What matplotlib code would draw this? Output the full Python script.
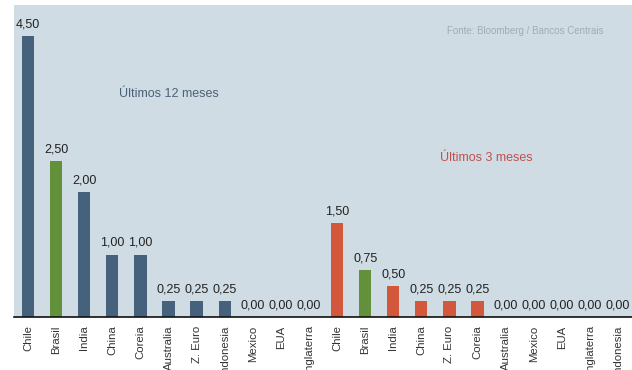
import matplotlib
matplotlib.use("Agg")
import matplotlib.pyplot as plt
from matplotlib import font_manager

names = {f.name for f in font_manager.fontManager.ttflist}
FONT = ['Liberation Sans Narrow'] if 'Liberation Sans Narrow' in names else ['Liberation Sans']
plt.rcParams['font.family'] = FONT + ['DejaVu Sans']

cats_12m = ["Chile", "Brasil", "India", "China", "Coreia", "Australia", "Z. Euro",
            "Indonesia", "Mexico", "EUA", "Inglaterra"]
vals_12m = [4.50, 2.50, 2.00, 1.00, 1.00, 0.25, 0.25, 0.25, 0.00, 0.00, 0.00]
cats_3m = ["Chile", "Brasil", "India", "China", "Z. Euro", "Coreia", "Australia",
           "Mexico", "EUA", "Inglaterra", "Indonesia"]
vals_3m = [1.50, 0.75, 0.50, 0.25, 0.25, 0.25, 0.00, 0.00, 0.00, 0.00, 0.00]

BLUE = "#46617b"
GREEN = "#62903b"
RED = "#d3573b"
BG = "#d0dce4"

fig = plt.figure(figsize=(6.32, 3.70), dpi=100)
ax = fig.add_axes([14/632, 1 - 317/370, 618/632, 312/370])
ax.set_facecolor(BG)

labels = cats_12m + cats_3m
values = vals_12m + vals_3m
colors = [GREEN if c == "Brasil" else BLUE for c in cats_12m] + \
         [GREEN if c == "Brasil" else RED for c in cats_3m]
x = list(range(len(labels)))
ax.bar(x, values, width=0.44, color=colors, zorder=2)
for xi, v in zip(x, values):
    ax.text(xi, v + 0.09, f"{v:.2f}".replace(".", ","), ha="center", va="bottom",
            fontsize=9, color="#222222")

ax.set_xlim(-0.5, len(labels) - 0.5)
ax.set_ylim(0, 5.0)
ax.set_xticks(x)
ax.set_xticklabels(labels, rotation=90, fontsize=8.2, color="#333333")
ax.tick_params(axis="x", length=0, pad=6)
ax.set_yticks([])
for s in ["left", "right", "top"]:
    ax.spines[s].set_visible(False)
ax.spines["bottom"].set_color("#111111")
ax.spines["bottom"].set_linewidth(1.2)

ax.text(5.0, 3.58, "Últimos 12 meses", ha="center", va="center", fontsize=9, color="#4a6178")
ax.text(16.3, 2.55, "Últimos 3 meses", ha="center", va="center", fontsize=9, color="#c0504d")
ax.text(20.47, 4.58, "Fonte: Bloomberg / Bancos Centrais", ha="right", va="center",
        fontsize=7, color="#a3abb1")

fig.savefig("out.png", dpi=100, facecolor="white")
